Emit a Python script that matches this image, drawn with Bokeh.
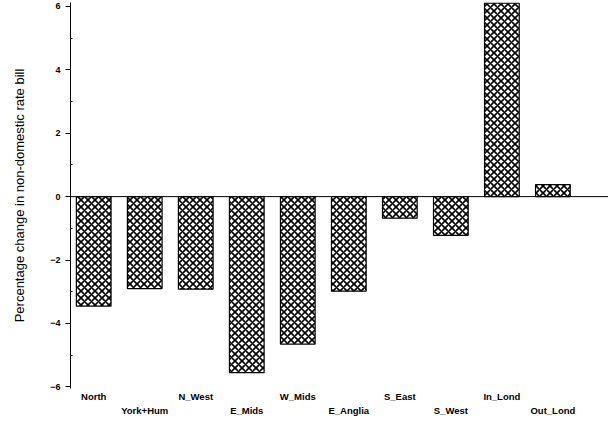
from bokeh.plotting import figure
from bokeh.models import Span, LinearAxis, FixedTicker, Range1d
from bokeh.embed import file_html
from bokeh.resources import INLINE

regions = ["North", "York+Hum", "N_West", "E_Mids", "W_Mids", "E_Anglia", "S_East", "S_West", "In_Lond", "Out_Lond"]
values = [-3.45, -2.9, -2.92, -5.55, -4.65, -2.98, -0.68, -1.22, 6.1, 0.38]
xs = list(range(len(regions)))

p = figure(width=608, height=418, output_backend="svg", toolbar_location=None,
           x_range=Range1d(-0.455, 10.09), y_range=Range1d(-6.05, 6.12), x_axis_location=None)
p.vbar(x=xs, top=values, bottom=0, width=0.68, fill_color="white", line_color="black", line_width=1.2,
       hatch_pattern="x", hatch_color="black", hatch_scale=7, hatch_weight=1.6)
p.add_layout(Span(location=0, dimension="width", line_color="black", line_width=1))
p.grid.visible = False
p.outline_line_color = None
p.min_border_left = 70
p.min_border_right = 0
p.min_border_top = 2
p.min_border_bottom = 0

ya = p.yaxis[0]
ya.ticker = FixedTicker(ticks=[-6, -4, -2, 0, 2, 4, 6], minor_ticks=[-5, -3, -1, 1, 3, 5])
ya.axis_line_color = "black"
ya.major_tick_line_color = "black"
ya.minor_tick_line_color = "black"
ya.major_label_text_color = "black"
ya.major_label_text_font = "Liberation Sans"
ya.major_label_text_font_style = "bold"
ya.major_label_text_font_size = "9px"
ya.major_tick_out = 5
ya.major_tick_in = 0
ya.minor_tick_in = 2
ya.minor_tick_out = 0
ya.axis_label = "Percentage change in non-domestic rate bill"
ya.axis_label_text_color = "black"
ya.axis_label_text_font = "Liberation Sans"
ya.axis_label_text_font_style = "normal"
ya.axis_label_text_font_size = "13px"
ya.axis_label_standoff = 20

for ticks, lines in (([0, 2, 4, 6, 8], 0), ([1, 3, 5, 7, 9], 1)):
    ax = LinearAxis(ticker=FixedTicker(ticks=ticks),
                    major_label_overrides={i: regions[i] for i in ticks})
    ax.axis_line_color = None
    ax.major_tick_line_color = None
    ax.minor_tick_line_color = None
    ax.major_tick_in = 0
    ax.major_tick_out = 0
    ax.major_label_text_color = "black"
    ax.major_label_text_font = "Liberation Sans"
    ax.major_label_text_font_style = "bold"
    ax.major_label_text_font_size = "9.5px"
    ax.major_label_standoff = 2 if lines == 0 else 0
    p.add_layout(ax, "below")

open("out.html", "w").write(file_html(p, INLINE))
